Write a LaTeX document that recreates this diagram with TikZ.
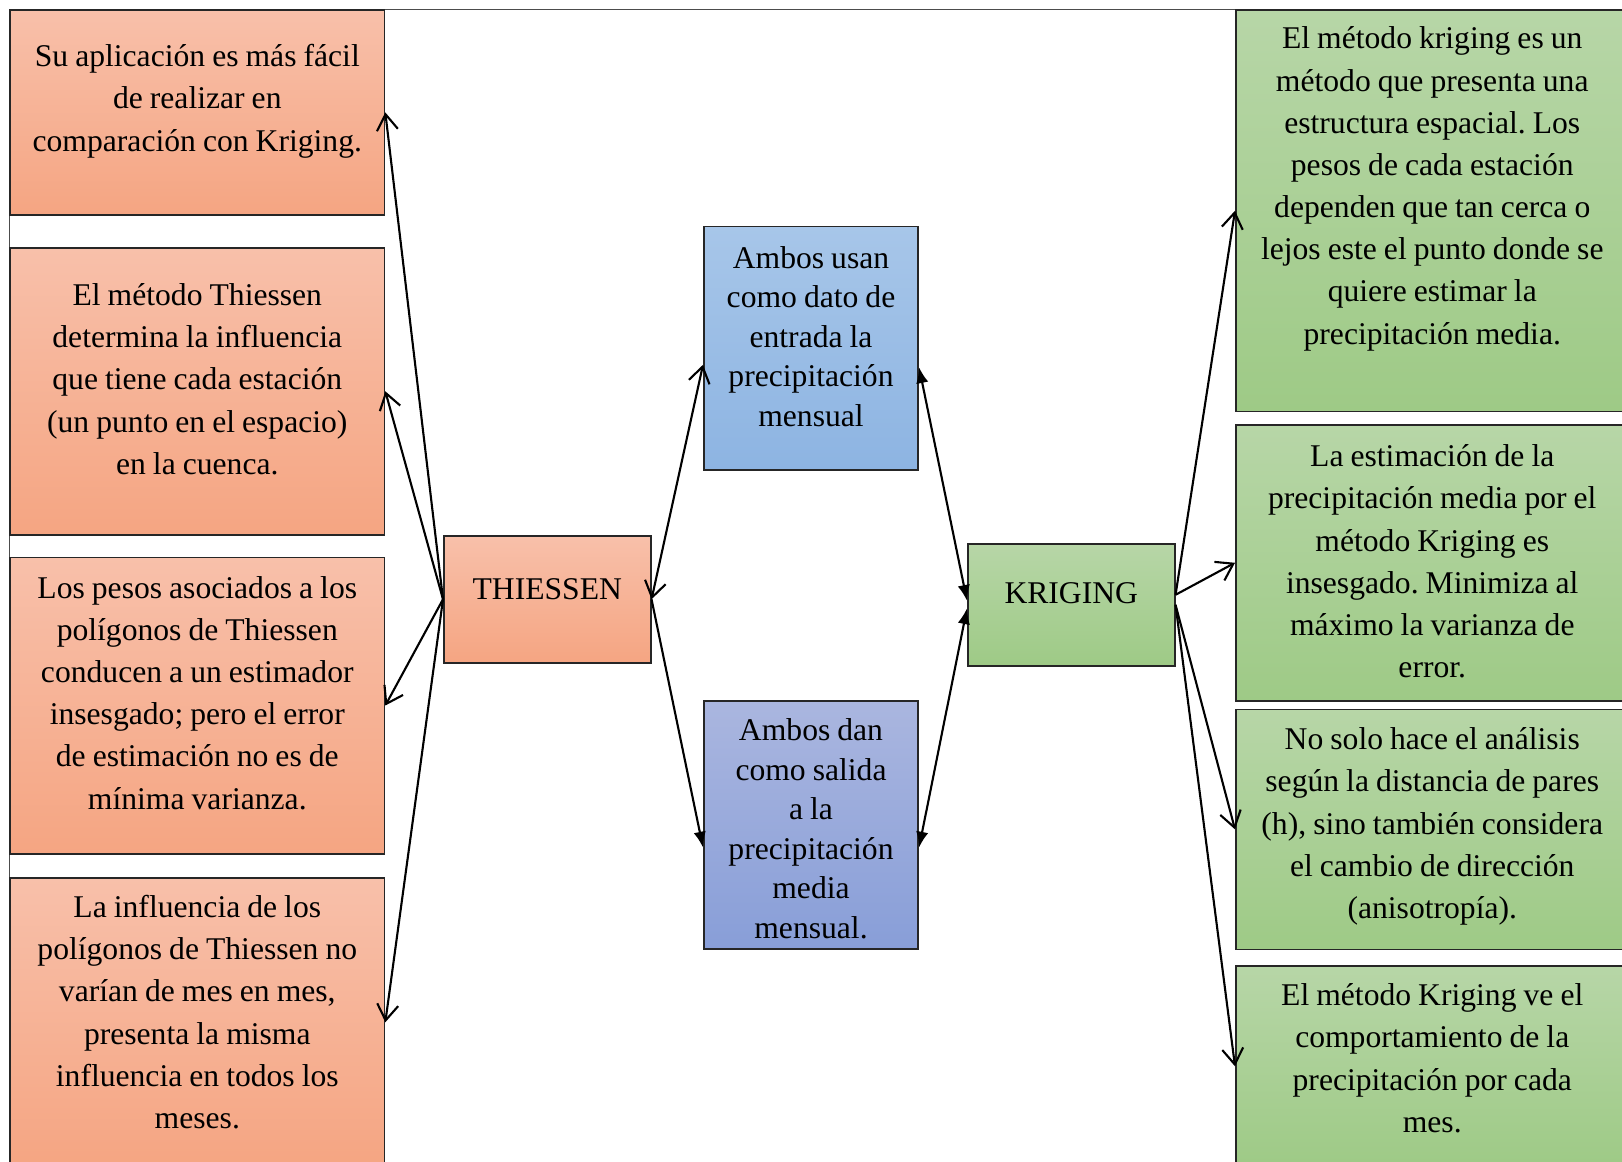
\documentclass[tikz,border=0pt]{standalone}
\usepackage{fontspec}
\setmainfont{Liberation Serif}
\usetikzlibrary{arrows.meta}

\begin{document}
\begin{tikzpicture}[x=0.02cm, y=-0.02cm,
        >={Straight Barb[length=9pt,width=12pt]},
        box/.style={draw=black!85, line width=0.9pt, inner sep=0pt, anchor=north west,
            align=center, font=\fontsize{18}{24}\selectfont,
            execute at begin node={\frenchspacing\spaceskip=4pt\relax}},
        obox/.style={box, top color=otop, bottom color=obot},
        gbox/.style={box, top color=gtop, bottom color=gbot},
        lbox/.style={obox, text width=7.49cm},
        rbox/.style={gbox, text width=7.86cm},
        bbox/.style={box, text width=4.29cm, font=\fontsize{18}{22.5}\selectfont},
        link/.style={line width=1.2pt},
        tri/.style={link, -{Latex[length=9pt,width=7pt]}},
        tritwo/.style={link, {Latex[length=9pt,width=7pt]}-{Latex[length=9pt,width=7pt]}}]
    \xdefinecolor{otop}{RGB}{248, 192, 170}
    \xdefinecolor{obot}{RGB}{245, 165, 130}
    \xdefinecolor{gtop}{RGB}{183, 214, 167}
    \xdefinecolor{gbot}{RGB}{158, 202, 134}
    \xdefinecolor{b1top}{RGB}{167, 198, 233}
    \xdefinecolor{b1bot}{RGB}{141, 180, 226}
    \xdefinecolor{b2top}{RGB}{170, 182, 223}
    \xdefinecolor{b2bot}{RGB}{136, 158, 216}

    \useasboundingbox (0,0) rectangle (1622,1161);
    % page frame
    \draw[gray!60!black, line width=0.5pt] (9.3,1175) |- (1640,9.3);

    % left column
    \node[lbox, text height=1.134cm, text depth=2.96cm] (L1) at (9.3,9.3)
        {Su aplicación es más fácil\\de realizar en\\comparación con Kriging.};
    \node[lbox, text height=1.156cm, text depth=4.584cm] (L2) at (9.3,247)
        {El método Thiessen\\determina la influencia\\que tiene cada estación\\(un punto en el espacio)\\en la cuenca.};
    \node[lbox, text height=0.82cm, text depth=5.11cm] (L3) at (9.3,556.5)
        {Los pesos asociados a los\\polígonos de Thiessen\\conducen a un estimador\\insesgado; pero el error\\de estimación no es de\\mínima varianza.};
    \node[lbox, text height=0.794cm, text depth=4.986cm] (L4) at (9.3,877)
        {La influencia de los\\polígonos de Thiessen no\\varían de mes en mes,\\presenta la misma\\influencia en todos los\\meses.};

    % the two methods
    \node[obox, text width=4.14cm, text height=1.266cm, text depth=1.274cm] (T) at (443,535) {THIESSEN};
    \node[gbox, text width=4.14cm, text height=1.2cm, text depth=1.24cm] (K) at (967,543) {KRIGING};

    % common points
    \node[bbox, top color=b1top, bottom color=b1bot, text height=0.84cm, text depth=4.04cm] (B1) at (703,225.5)
        {Ambos usan\\como dato de\\entrada la\\precipitación\\mensual};
    \node[bbox, top color=b2top, bottom color=b2bot, text height=0.8cm, text depth=4.17cm] (B2) at (703,700)
        {Ambos dan\\como salida\\a la\\precipitación\\media\\mensual.};

    % right column
    \node[rbox, text height=0.778cm, text depth=7.248cm] (R1) at (1235,9.3)
        {El método kriging es un\\método que presenta una\\estructura espacial. Los\\pesos de cada estación\\dependen que tan cerca o\\lejos este el punto donde se\\quiere estimar la\\precipitación media.};
    \node[rbox, text height=0.84cm, text depth=4.68cm] (R2) at (1235,424)
        {La estimación de la\\precipitación media por el\\método Kriging es\\insesgado. Minimiza al\\máximo la varianza de\\error.};
    \node[rbox, text height=0.808cm, text depth=3.992cm] (R3) at (1235,708.6)
        {No solo hace el análisis\\según la distancia de pares\\(h), sino también considera\\el cambio de dirección\\(anisotropía).};
    \node[rbox, text height=0.8cm, text depth=3.22cm] (R4) at (1235,965)
        {El método Kriging ve el\\comportamiento de la\\precipitación por cada\\mes.};

    % contact points
    \coordinate (B1-w) at ([yshift=-0.33cm]B1.west);
    \coordinate (B1-e) at ([yshift=-0.38cm]B1.east);
    \coordinate (B2-w) at ([yshift=-0.45cm]B2.west);
    \coordinate (B2-e) at ([yshift=-0.45cm]B2.east);
    \coordinate (K-wt) at ([yshift=0.08cm]K.west);
    \coordinate (K-wb) at ([yshift=-0.07cm]K.west);
    \coordinate (K-et) at ([yshift=0.2cm]K.east);

    % Thiessen to its notes
    \foreach \n in {L1, L2, L3, L4}
        \draw[link, ->] (T.west) -- (\n.east);
    % Kriging to its notes
    \foreach \n in {R1, R2}
        \draw[link, ->] (K-et) -- (\n.west);
    \foreach \n in {R3, R4}
        \draw[link, ->] (K.east) -- (\n.west);

    % links through the middle
    \draw[link, <->] (T.east) -- (B1-w);
    \draw[tri] (T.east) -- (B2-w);
    \draw[tritwo] (B1-e) -- (K-wt);
    \draw[tritwo] (B2-e) -- (K-wb);
\end{tikzpicture}
\end{document}
